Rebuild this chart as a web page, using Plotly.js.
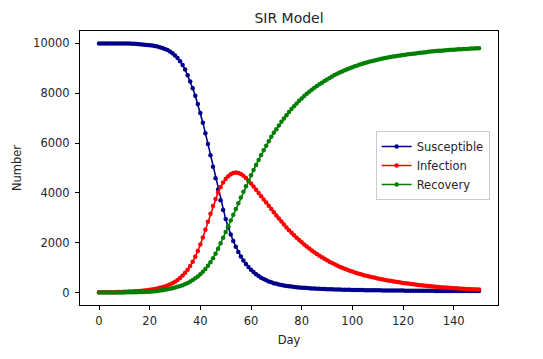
<!DOCTYPE html>
<html>
<head>
<meta charset="utf-8">
<script src="https://cdn.plot.ly/plotly-3.0.1.min.js"></script>
<style>html,body{margin:0;padding:0;background:#fff;}#chart{width:543px;height:359px;}</style>
</head>
<body>
<div id="chart"></div>
<script>
// Days 0..150
const days = [];
for (let d = 0; d <= 150; d++) days.push(d);

const susceptible = [
10000,10000,10000,10000,10000,10000,10000,10000,10000,10000,
10000,10000,9995,9990,9985,9980,9972,9963,9953,9942,
9930,9915,9897,9876,9850,9818,9780,9733,9675,9605,
9520,9420,9290,9140,8950,8720,8470,8200,7900,7570,
7210,6820,6400,5960,5510,5050,4590,4140,3710,3310,
2950,2620,2330,2070,1840,1630,1450,1290,1150,1025,
915,820,735,660,595,540,490,447,410,378,
350,325,303,284,267,252,238,226,215,205,
196,188,180,173,167,161,155,150,145,141,
137,133,129,126,123,120,117,114,112,109,
107,105,103,101,99,97,95,94,92,91,
89,88,87,85,84,83,82,81,80,79,
78,77,76,75,74,73,72,72,71,70,
69,69,68,67,67,66,65,65,64,64,
63,63,62,62,61,61,60,60,59,59,
58];

const infection = [
7,8,9,10,12,14,16,18,21,24,
28,32,37,42,48,55,63,72,83,95,
110,126,144,165,189,216,247,283,324,371,
430,500,585,680,790,920,1065,1235,1435,1665,
1925,2210,2520,2840,3160,3470,3760,4020,4240,4420,
4560,4670,4750,4800,4815,4800,4755,4685,4595,4490,
4375,4255,4130,4000,3870,3740,3610,3480,3350,3220,
3095,2970,2850,2730,2615,2505,2400,2300,2200,2105,
2015,1930,1845,1765,1690,1615,1545,1480,1415,1355,
1295,1240,1185,1135,1085,1040,995,955,915,875,
840,805,775,745,715,688,662,637,613,590,
568,547,527,507,488,470,452,435,419,403,
388,373,359,345,332,319,307,295,284,273,
262,252,242,233,224,215,207,199,191,184,
177,170,163,157,151,145,139,134,129,124,
119];

const recovery = [
0,0,0,1,1,2,2,3,4,5,
6,7,8,10,12,14,17,21,25,30,
35,44,54,66,80,95,111,129,150,174,
200,228,260,297,340,388,440,500,570,645,
730,830,945,1075,1220,1380,1560,1760,1975,2200,
2430,2660,2890,3120,3350,3585,3815,4045,4270,4490,
4710,4920,5125,5325,5520,5710,5895,6075,6250,6420,
6560,6710,6855,6990,7120,7245,7365,7480,7590,7695,
7795,7890,7980,8065,8145,8220,8290,8360,8425,8490,
8555,8615,8675,8730,8780,8830,8878,8922,8963,9005,
9045,9082,9118,9152,9185,9216,9245,9273,9300,9325,
9349,9372,9394,9415,9435,9454,9472,9489,9505,9521,
9536,9550,9564,9577,9589,9601,9612,9623,9633,9643,
9665,9675,9685,9694,9703,9712,9720,9728,9736,9743,
9750,9757,9764,9770,9776,9782,9788,9793,9798,9803,
9808];

const seriesNames = ["Susceptible", "Infection", "Recovery"];
const seriesColors = ["#00008b", "#ff0000", "#008000"];
const xTicks = [0, 20, 40, 60, 80, 100, 120, 140];
const yTicks = [0, 2000, 4000, 6000, 8000, 10000];

const FONT = "DejaVu Sans, Liberation Sans, sans-serif";
const allSeries = [susceptible, infection, recovery];
const traces = allSeries.map((vals, i) => ({
  x: days, y: vals, name: seriesNames[i], type: "scatter", mode: "lines+markers",
  line: {color: seriesColors[i], width: 1.6},
  marker: {color: seriesColors[i], size: 4.5}
}));

const axisCommon = {
  showline: true, mirror: true, linecolor: "#000", linewidth: 1,
  ticks: "outside", ticklen: 4, tickwidth: 1, tickcolor: "#000",
  showgrid: false, zeroline: false, automargin: false,
  tickfont: {family: FONT, size: 11.5, color: "#262626"}
};

const layout = {
  width: 543, height: 359,
  paper_bgcolor: "#fff", plot_bgcolor: "#fff",
  margin: {l: 80, r: 45, t: 31, b: 54, pad: 0},
  title: {text: "SIR Model", font: {family: FONT, size: 14, color: "#262626"},
          x: 0.5, xref: "paper", xanchor: "center", y: 1 - 18/359, yref: "container", yanchor: "middle"},
  xaxis: Object.assign({}, axisCommon, {
    range: [-7.5, 157.5], tickmode: "array", tickvals: xTicks, ticktext: xTicks.map(String),
    ticklabelstandoff: 1,
    title: {text: "Day", font: {family: FONT, size: 11.5, color: "#262626"}, standoff: 9}
  }),
  yaxis: Object.assign({}, axisCommon, {
    range: [-500, 10500], tickmode: "array", tickvals: yTicks, ticktext: yTicks.map(String),
    ticklabelstandoff: 3,
    title: {text: "Number", font: {family: FONT, size: 11.5, color: "#262626"}, standoff: 9}
  }),
  legend: {
    x: 0.98, xanchor: "right", y: 0.635, yanchor: "top",
    bgcolor: "#fff", bordercolor: "#cccccc", borderwidth: 1,
    font: {family: FONT, size: 11.5, color: "#262626"},
    itemwidth: 30, tracegroupgap: 0
  },
  showlegend: true
};

Plotly.newPlot("chart", traces, layout, {displayModeBar: false, staticPlot: true});
</script>
</body>
</html>
